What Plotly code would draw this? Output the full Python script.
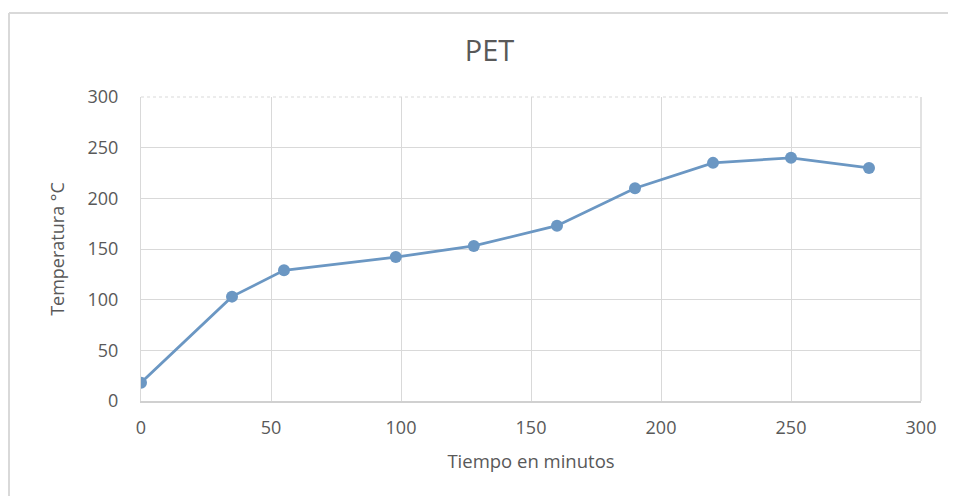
import plotly.graph_objects as go

tiempo = [0, 35, 55, 98, 128, 160, 190, 220, 250, 280]
temperatura = [18, 103, 129, 142, 153, 173, 210, 235, 240, 230]

x_ticks = [0, 50, 100, 150, 200, 250, 300]
y_ticks = [0, 50, 100, 150, 200, 250, 300]

title_text = "PET"
x_title = "Tiempo en minutos"
y_title = "Temperatura °C"

line_color = "#6b97c3"
text_color = "#595959"
grid_color = "#d9d9d9"
font_family = "Open Sans"

fig = go.Figure()
fig.add_trace(go.Scatter(
    x=tiempo, y=temperatura, mode="lines+markers",
    line=dict(color=line_color, width=2.75),
    marker=dict(color=line_color, size=12),
    showlegend=False,
))

# page body adds an 8px offset; figure sized to fit the window
W, H = 948, 488
L, T = 133, 89
pw, ph = 780, 304
R, B = W - L - pw, H - T - ph

fig.update_layout(
    width=W, height=H,
    margin=dict(l=L, r=R, t=T, b=B),
    paper_bgcolor="white", plot_bgcolor="white",
    font=dict(family=font_family, color=text_color),
    title=dict(text=title_text, x=481.5 / W, xanchor="center",
               y=1 - 43 / H, yanchor="middle",
               font=dict(size=29, color=text_color, family=font_family)),
)

fig.update_xaxes(
    range=[0, 300], tickvals=x_ticks, ticktext=[str(v) for v in x_ticks],
    showgrid=True, gridcolor=grid_color, gridwidth=1,
    showline=True, linecolor="#d0d0d0", linewidth=2, mirror=False,
    zeroline=False, ticks="", ticklabelstandoff=9,
    tickfont=dict(size=18, color=text_color, family=font_family),
    title=dict(text=x_title, font=dict(size=18.5, color=text_color, family=font_family),
               standoff=17),
)
fig.update_yaxes(
    range=[0, 300], tickvals=y_ticks, ticktext=[str(v) for v in y_ticks],
    showgrid=True, gridcolor=grid_color, gridwidth=1,
    showline=True, linecolor=grid_color, linewidth=1, mirror=False,
    zeroline=False, ticks="", ticklabelstandoff=18,
    tickfont=dict(size=18, color=text_color, family=font_family),
    title=dict(text=y_title, font=dict(size=18, color=text_color, family=font_family),
               standoff=18),
)

# top and right edges of the plot area
fig.add_shape(type="line", xref="paper", yref="paper", x0=0, x1=1, y0=1, y1=1,
              line=dict(color=grid_color, width=1, dash="dot"))
fig.add_shape(type="line", xref="paper", yref="paper", x0=1, x1=1, y0=0, y1=1,
              line=dict(color=grid_color, width=1.5))

# outer chart border (left and top visible)
x_left = (1 - L) / pw
y_top = (H - B - 5) / ph
fig.add_shape(type="line", xref="paper", yref="paper", x0=x_left, x1=x_left,
              y0=y_top, y1=-1, line=dict(color="#d9d9d9", width=2))
fig.add_shape(type="line", xref="paper", yref="paper", x0=x_left, x1=2,
              y0=y_top, y1=y_top, line=dict(color="#d9d9d9", width=2))

fig.write_html("out.html")
